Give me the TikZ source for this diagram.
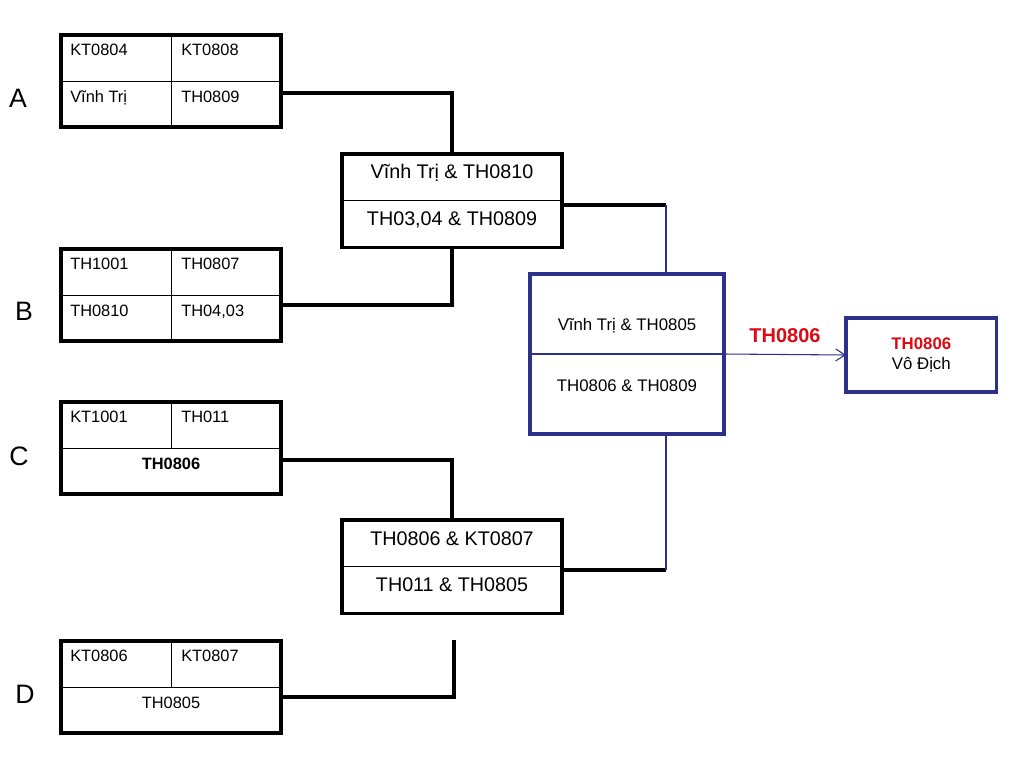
\documentclass[tikz,border=0pt]{standalone}
\usepackage{fontspec}
\setmainfont{Liberation Sans}
\usepackage{tikz}
\usetikzlibrary{arrows.meta}
\definecolor{navy}{RGB}{46,49,140}
\definecolor{winred}{RGB}{220,10,20}

\begin{document}
\begin{tikzpicture} [x=0.75pt, y=-0.75pt,
	grp/.style = {draw, line width=2.5pt, anchor=north west, inner sep=0pt, outer sep=0pt, minimum width=165pt, minimum height=69pt},
	semi/.style = {grp, minimum height=70pt},
	blk/.style = {draw=navy, line width=2.5pt, anchor=north west, inner sep=0pt, outer sep=0pt},
	inner/.style = {line width=0.6pt},
	conn/.style = {line width=2.5pt},
	thinconn/.style = {navy, line width=0.8pt},
	cell/.style = {anchor=west, inner sep=0pt, text height=8.8pt, text depth=0pt, font=\fontsize{12.3}{14}\selectfont},
	mid/.style = {inner sep=0pt, text height=10.6pt, text depth=0pt, font=\fontsize{14.8}{17}\selectfont},
	big/.style = {inner sep=0pt, text height=9pt, text depth=0pt, font=\fontsize{12.6}{14}\selectfont},
	letter/.style = {inner sep=0pt, font=\fontsize{20}{22}\selectfont}]
	%\draw [thin, help lines] (0,0) grid (1024,768);
	\useasboundingbox (0,0) rectangle (1024,768);
	% groups
	\node[grp] (grpA) at (61,35) {};
	\node[grp] (grpB) at (61,249) {};
	\node[grp] (grpC) at (61,402) {};
	\node[grp] (grpD) at (61,641) {};
	\foreach \g in {grpA, grpB, grpC, grpD}
		\draw[inner] (\g.west) -- (\g.east);
	\draw[inner] (grpA.north) -- (grpA.south);
	\draw[inner] (grpB.north) -- (grpB.south);
	\draw[inner] (grpC.north) -- (grpC.center);
	\draw[inner] (grpD.north) -- (grpD.center);
	\node[letter] (labA) at (18,98) {A};
	\node[letter] (labB) at (24,311) {B};
	\node[letter] (labC) at (19,456) {C};
	\node[letter] (labD) at (25,694) {D};
	\node[cell] (a1) at (70,50) {KT0804};
	\node[cell] (a2) at (181,50) {KT0808};
	\node[cell] (a3) at (70,97) {Vĩnh Trị};
	\node[cell] (a4) at (181,97) {TH0809};
	\node[cell] (b1) at (70,264) {TH1001};
	\node[cell] (b2) at (181,264) {TH0807};
	\node[cell] (b3) at (70,311) {TH0810};
	\node[cell] (b4) at (181,311) {TH04,03};
	\node[cell] (c1) at (70,417) {KT1001};
	\node[cell] (c2) at (181,417) {TH011};
	\node[cell, anchor=center, font=\fontsize{12.3}{14}\selectfont\bfseries] (c3) at (171,464) {TH0806};
	\node[cell] (d1) at (70,656) {KT0806};
	\node[cell] (d2) at (181,656) {KT0807};
	\node[cell, anchor=center] (d3) at (171,703) {TH0805};
	% semi finals
	\node[semi] (semi1) at (342,154) {};
	\node[semi] (semi2) at (342,520) {};
	\draw[inner] (semi1.west) -- (semi1.east);
	\draw[inner] (semi2.west) -- (semi2.east);
	\node[mid] (s1a) at (452,171) {Vĩnh Trị \& TH0810};
	\node[mid] (s1b) at (452,218) {TH03,04 \& TH0809};
	\node[mid] (s2a) at (452,538) {TH0806 \& KT0807};
	\node[mid] (s2b) at (452,584) {TH011 \& TH0805};
	% final
	\node[blk, minimum width=145.5pt, minimum height=120pt] (final) at (530,274) {};
	\draw[thinconn] (final.west) -- (final.east);
	\node[big] (f1) at (627,324) {Vĩnh Trị \& TH0805};
	\node[big] (f2) at (627,385) {TH0806 \& TH0809};
	\node[blk, minimum width=113pt, minimum height=55.5pt, align=center, font=\fontsize{12.6}{15}\selectfont] (champ) at (846,318)
		{\textcolor{winred}{\bfseries TH0806}\\Vô Địch};
	% connectors
	\coordinate (dend) at (454,640);
	\coordinate (j1) at (666,205);
	\coordinate (j2) at (666,570);
	\draw[conn] (grpA.east) ++(0,12) -| (semi1.north);
	\draw[conn] (grpB.east) ++(0,10) -| (semi1.south);
	\draw[conn] (grpC.east) ++(0,12) -| (semi2.north);
	\draw[conn] (grpD.east) ++(0,10) -| (dend);
	\draw[conn] (semi1.east |- j1) -- (j1);
	\draw[conn] (semi2.east |- j2) -- (j2);
	\draw[thinconn] (j1) -- (j1 |- final.north);
	\draw[thinconn] (j2) -- (j2 |- final.south);
	\draw[thinconn, -{Straight Barb[length=7pt, width=9pt]}] (final.east) -- (champ.west)
		node [pos = 0.5, above=5pt, text=winred, font=\fontsize{15}{17}\selectfont\bfseries] {TH0806};
\end{tikzpicture}
\end{document}
